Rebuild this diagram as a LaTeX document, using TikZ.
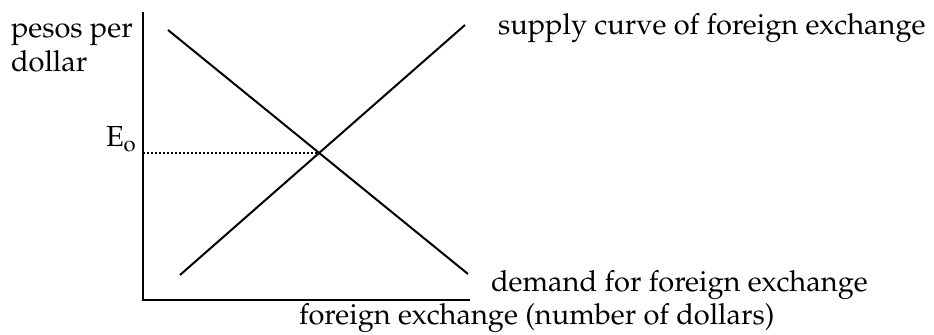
\documentclass[tikz,border=0pt]{standalone}
\usepackage[T1]{fontenc}
\usepackage{mathpazo}
\usepackage{tikz}
\usetikzlibrary{positioning,calc}

\begin{document}
\begin{tikzpicture}[x=0.5pt, y=-0.5pt, line width=1pt,
    every node/.style={font=\fontsize{14.5}{17}\selectfont, inner sep=0pt}]
    \useasboundingbox (0,0) rectangle (934,335);

    % Axes
    \coordinate (origin) at (143,300);
    \coordinate (ytop) at (143,12);
    \coordinate (xend) at (470,300);
    \draw (ytop) -- (origin) -- (xend);

    % Demand and supply curves
    \coordinate (d1) at (168,30);
    \coordinate (d2) at (468,274);
    \coordinate (s1) at (180,275);
    \coordinate (s2) at (465,25);
    \draw (d1) -- (d2);
    \draw (s1) -- (s2);

    % Equilibrium rate
    \coordinate (eq) at (intersection of d1--d2 and s1--s2);
    \draw[line width=0.8pt, dash pattern=on 1pt off 1pt] (origin |- eq) -- (eq);
    \node[anchor=base west] (elabel) at (105,147) {E\textsubscript{o}};

    % Labels
    \node[anchor=base west, align=left] (ylabel) at (10,72) {pesos per\\dollar};
    \node[anchor=base west] (slabel) at (497,35) {supply curve of foreign exchange};
    \node[anchor=base west] (dlabel) at (490,292) {demand for foreign exchange};
    \node[anchor=base west] (xlabel) at (298,325) {foreign exchange (number of dollars)};
\end{tikzpicture}
\end{document}
